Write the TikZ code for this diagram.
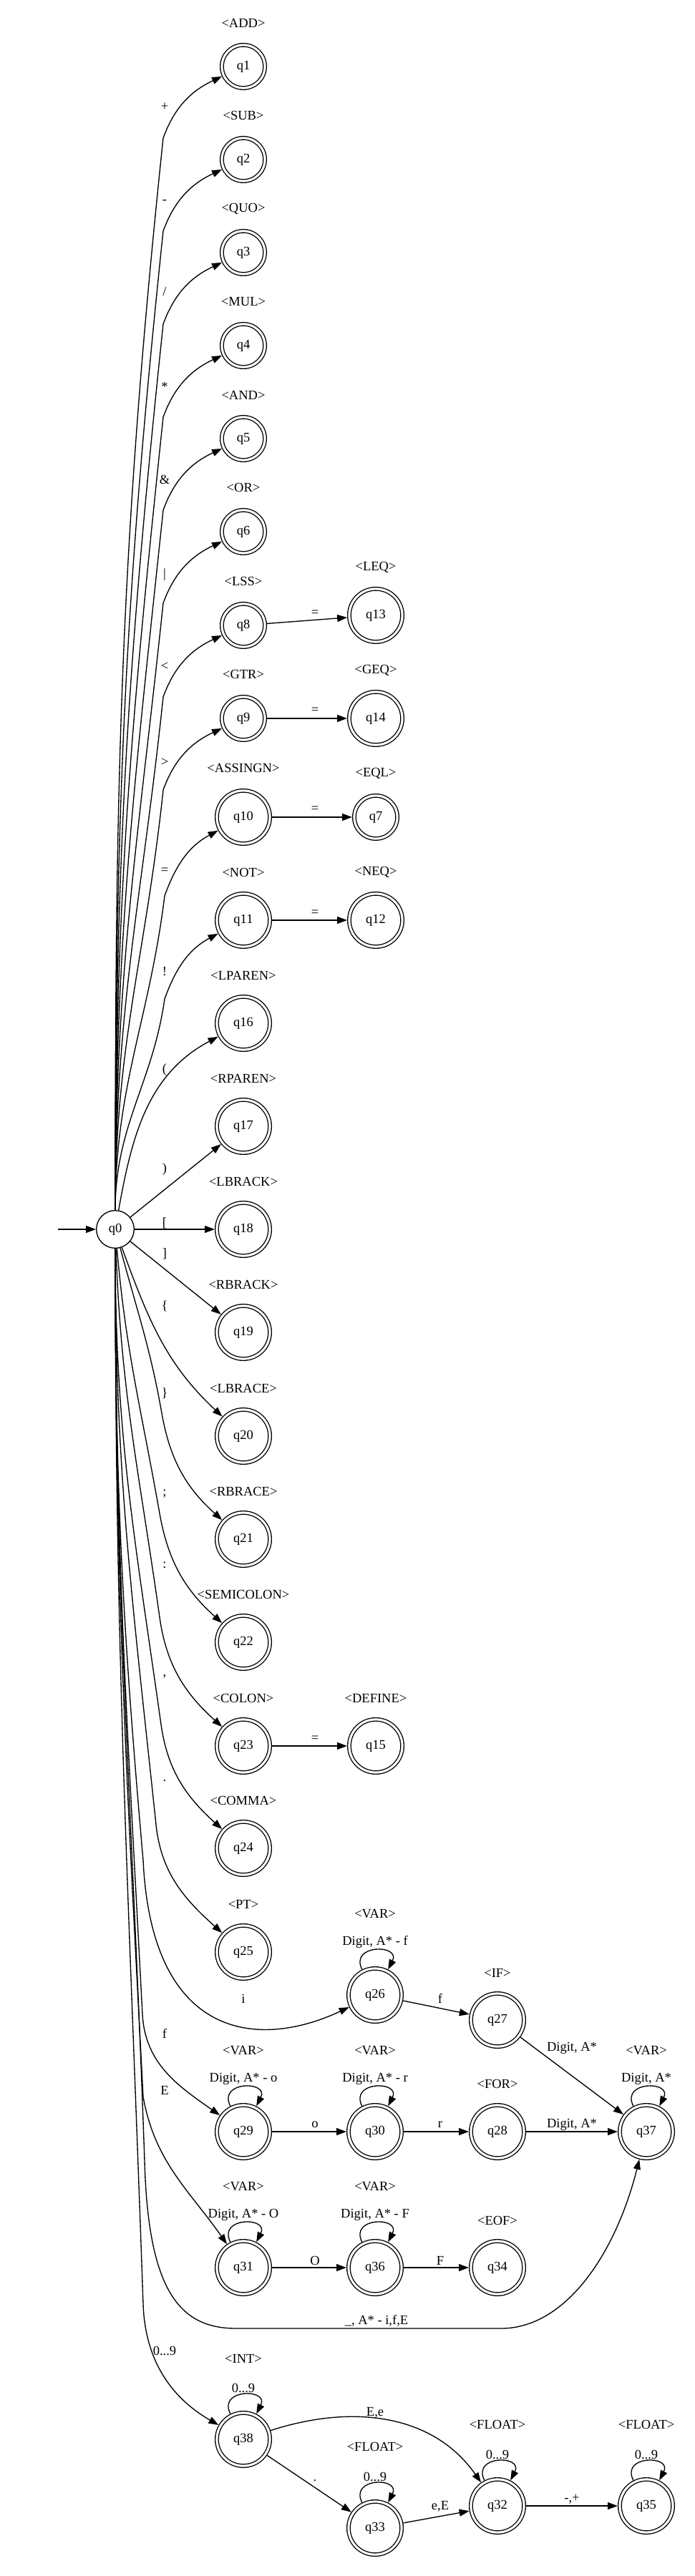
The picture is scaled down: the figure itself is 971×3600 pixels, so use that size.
\documentclass[tikz,border=0pt]{standalone}
\usepackage{fontspec}
\setmainfont{Liberation Serif}
\usetikzlibrary{arrows.meta}
\newlength{\pxu}
\setlength{\pxu}{0.07pt}
\begin{document}
\begin{tikzpicture}[x=0.07pt, y=-0.07pt, line width=1.35\pxu,
  font=\fontsize{1.295pt}{1.54pt}\selectfont,
  >={Triangle[length=0.98pt,width=0.7pt]},
  start/.style={circle, draw, minimum size=52.65\pxu, inner sep=0pt},
  final/.style={circle, draw, double, double distance=3.15\pxu, minimum size=60.15\pxu,
    inner sep=0pt, outer sep=2.925\pxu},
  wide/.style={final, minimum size=74.15\pxu},
  sym/.style={inner sep=0pt},
  loopy/.style={out=117, in=63, distance=40\pxu}]
\useasboundingbox (0,0) rectangle (971,3600);

% states
\node[start] (q0) at (161,1718) {q0};
\node[final] (q1) at (340,93) {q1};
\node[final] (q2) at (340,223) {q2};
\node[final] (q3) at (340,353) {q3};
\node[final] (q4) at (340,483) {q4};
\node[final] (q5) at (340,613) {q5};
\node[final] (q6) at (340,743) {q6};
\node[final] (q8) at (340,874) {q8};
\node[wide] (q13) at (525,860) {q13};
\node[final] (q9) at (340,1004) {q9};
\node[wide] (q14) at (525,1004) {q14};
\node[wide] (q10) at (340,1142) {q10};
\node[final] (q7) at (525,1142) {q7};
\node[wide] (q11) at (340,1286) {q11};
\node[wide] (q12) at (525,1286) {q12};
\node[wide] (q16) at (340,1430) {q16};
\node[wide] (q17) at (340,1574) {q17};
\node[wide] (q18) at (340,1718) {q18};
\node[wide] (q19) at (340,1862) {q19};
\node[wide] (q20) at (340,2007) {q20};
\node[wide] (q21) at (340,2151) {q21};
\node[wide] (q22) at (340,2295) {q22};
\node[wide] (q23) at (340,2440) {q23};
\node[wide] (q15) at (525,2440) {q15};
\node[wide] (q24) at (340,2583) {q24};
\node[wide] (q25) at (340,2728) {q25};
\node[wide] (q26) at (524,2788) {q26};
\node[wide] (q27) at (695,2823) {q27};
\node[wide] (q29) at (340,2979) {q29};
\node[wide] (q30) at (524,2979) {q30};
\node[wide] (q28) at (695,2979) {q28};
\node[wide] (q37) at (903,2979) {q37};
\node[wide] (q31) at (340,3169) {q31};
\node[wide] (q36) at (524,3169) {q36};
\node[wide] (q34) at (695,3169) {q34};
\node[wide] (q38) at (340,3409) {q38};
\node[wide] (q33) at (524,3533) {q33};
\node[wide] (q32) at (695,3502) {q32};
\node[wide] (q35) at (903,3502) {q35};

% token names
\node[sym] (k1) at (340,32) {<ADD>};
\node[sym] (k2) at (340,162) {<SUB>};
\node[sym] (k3) at (340,292) {<QUO>};
\node[sym] (k4) at (340,422) {<MUL>};
\node[sym] (k5) at (340,552) {<AND>};
\node[sym] (k6) at (340,682) {<OR>};
\node[sym] (k8) at (340,813) {<LSS>};
\node[sym] (k13) at (525,793) {<LEQ>};
\node[sym] (k9) at (340,943) {<GTR>};
\node[sym] (k14) at (525,937) {<GEQ>};
\node[sym] (k10) at (340,1074) {<ASSINGN>};
\node[sym] (k7) at (525,1081) {<EQL>};
\node[sym] (k11) at (340,1219) {<NOT>};
\node[sym] (k12) at (525,1219) {<NEQ>};
\node[sym] (k16) at (340,1363) {<LPAREN>};
\node[sym] (k17) at (340,1507) {<RPAREN>};
\node[sym] (k18) at (340,1651) {<LBRACK>};
\node[sym] (k19) at (340,1795) {<RBRACK>};
\node[sym] (k20) at (340,1940) {<LBRACE>};
\node[sym] (k21) at (340,2084) {<RBRACE>};
\node[sym] (k22) at (340,2228) {<SEMICOLON>};
\node[sym] (k23) at (340,2373) {<COLON>};
\node[sym] (k15) at (525,2373) {<DEFINE>};
\node[sym] (k24) at (340,2516) {<COMMA>};
\node[sym] (k25) at (340,2661) {<PT>};
\node[sym] (k26) at (524,2675) {<VAR>};
\node[sym] (k27) at (695,2757) {<IF>};
\node[sym] (k29) at (340,2866) {<VAR>};
\node[sym] (k30) at (524,2866) {<VAR>};
\node[sym] (k28) at (695,2912) {<FOR>};
\node[sym] (k37) at (903,2866) {<VAR>};
\node[sym] (k31) at (340,3056) {<VAR>};
\node[sym] (k36) at (524,3056) {<VAR>};
\node[sym] (k34) at (695,3103) {<EOF>};
\node[sym] (k38) at (340,3296) {<INT>};
\node[sym] (k33) at (524,3419) {<FLOAT>};
\node[sym] (k32) at (695,3388) {<FLOAT>};
\node[sym] (k35) at (903,3388) {<FLOAT>};

% start arrow
\coordinate (s) at (81,1718);
\draw[->] (s) -- (q0);

% edges going up from q0
\draw[->] (q0) to[out=90,in=-96] (228,193) to[out=70,in=205] (q1);
\draw[->] (q0) to[out=90,in=-96] (228,323) to[out=70,in=205] (q2);
\draw[->] (q0) to[out=90,in=-96] (228,453) to[out=70,in=205] (q3);
\draw[->] (q0) to[out=90,in=-96] (228,583) to[out=70,in=205] (q4);
\draw[->] (q0) to[out=90,in=-96] (228,713) to[out=70,in=205] (q5);
\draw[->] (q0) to[out=90,in=-96] (228,843) to[out=70,in=205] (q6);
\draw[->] (q0) to[out=90,in=-96] (228,974) to[out=70,in=205] (q8);
\draw[->] (q0) to[out=90,in=-96] (228,1104) to[out=70,in=205] (q9);
\draw[->] (q0) to[out=90,in=-97] (230,1252) to[out=70,in=208] (q10);
\draw[->] (q0) to[out=90,in=-98] (230,1396) to[out=70,in=208] (q11);
\draw[->] (q0) to[out=80,in=208] (q16);
\draw[->] (q0) -- (q17);
\draw[->] (q0) -- (q18);
\draw[->] (q0) -- (q19);

% edges going down from q0
\draw[->] (q0) to[out=-70,in=137] (q20);
\draw[->] (q0) to[out=-75,in=100] (226,1975) to[out=-80,in=138] (q21);
\draw[->] (q0) to[out=-85,in=100] (223,2115) to[out=-80,in=138] (q22);
\draw[->] (q0) to[out=-88,in=98] (223,2260) to[out=-82,in=138] (q23);
\draw[->] (q0) to[out=-90,in=98] (225,2410) to[out=-82,in=138] (q24);
\draw[->] (q0) to[out=-90,in=96] (218,2550) to[out=-84,in=138] (q25);
\draw[->] (q0) to[out=-90,in=95] (200,2600) .. controls (212,2850) and (360,2865) .. (q26);
\draw[->] (q0) to[out=-90,in=93] (199,2815) to[out=-87,in=145] (q29);
\draw[->] (q0) to[out=-90,in=93] (200,2930) to[out=-80,in=125] (q31);
\draw[->] (q0) to[out=-90,in=92] (202,3020) .. controls (207,3200) and (250,3254) .. (330,3254)
  -- (700,3254) .. controls (790,3254) and (860,3150) .. (q37);
\draw[->] (q0) to[out=-90,in=92] (200,3220) to[out=-88,in=150] (q38);

% second symbols
\draw[->] (q8) -- (q13);
\draw[->] (q9) -- (q14);
\draw[->] (q10) -- (q7);
\draw[->] (q11) -- (q12);
\draw[->] (q23) -- (q15);

% keywords and numbers
\draw[->] (q26) -- (q27);
\draw[->] (q27) -- (q37);
\draw[->] (q29) -- (q30);
\draw[->] (q30) -- (q28);
\draw[->] (q28) -- (q37);
\draw[->] (q31) -- (q36);
\draw[->] (q36) -- (q34);
\draw[->] (q38) to[out=18,in=125] (q32);
\draw[->] (q38) -- (q33);
\draw[->] (q33) -- (q32);
\draw[->] (q32) -- (q35);

% self loops
\draw[->] (q26) to[loopy] node[above, inner sep=2\pxu] (v26) {Digit, A* - f} (q26);
\draw[->] (q29) to[loopy] node[above, inner sep=2\pxu] (v29) {Digit, A* - o} (q29);
\draw[->] (q30) to[loopy] node[above, inner sep=2\pxu] (v30) {Digit, A* - r} (q30);
\draw[->] (q37) to[loopy] node[above, inner sep=2\pxu] (v37) {Digit, A*} (q37);
\draw[->] (q31) to[loopy] node[above, inner sep=2\pxu] (v31) {Digit, A* - O} (q31);
\draw[->] (q36) to[loopy] node[above, inner sep=2\pxu] (v36) {Digit, A* - F} (q36);
\draw[->] (q38) to[loopy] node[above, inner sep=2\pxu] (v38) {0...9} (q38);
\draw[->] (q33) to[loopy] node[above, inner sep=2\pxu] (v33) {0...9} (q33);
\draw[->] (q32) to[loopy] node[above, inner sep=2\pxu] (v32) {0...9} (q32);
\draw[->] (q35) to[loopy] node[above, inner sep=2\pxu] (v35) {0...9} (q35);

% edge labels
\node[sym] (t1) at (230,149) {+};
\node[sym] (t2) at (230,282) {-};
\node[sym] (t3) at (230,408) {/};
\node[sym] (t4) at (230,540) {*};
\node[sym] (t5) at (230,670) {\&};
\node[sym] (t6) at (230,803) {|};
\node[sym] (t7) at (230,931) {<};
\node[sym] (t8) at (230,1065) {>};
\node[sym] (t9) at (230,1217) {=};
\node[sym] (t10) at (230,1358) {!};
\node[sym] (t11) at (230,1495) {(};
\node[sym] (t12) at (230,1634) {)};
\node[sym] (t13) at (230,1709) {[};
\node[sym] (t14) at (230,1752) {]};
\node[sym] (t15) at (230,1825) {\{};
\node[sym] (t16) at (230,1947) {\}};
\node[sym] (t17) at (230,2088) {;};
\node[sym] (t18) at (230,2187) {:};
\node[sym] (t19) at (230,2343) {,};
\node[sym] (t20) at (230,2489) {.};
\node[sym] (t21) at (340,2793) {i};
\node[sym] (t22) at (230,2842) {f};
\node[sym] (t23) at (230,2921) {E};
\node[sym] (t24) at (526,3243) {\_, A* - i,f,E};
\node[sym] (t25) at (230,3285) {0...9};
\node[sym] (t26) at (440,857) {=};
\node[sym] (t27) at (440,993) {=};
\node[sym] (t28) at (440,1131) {=};
\node[sym] (t29) at (440,1276) {=};
\node[sym] (t30) at (440,2430) {=};
\node[sym] (t31) at (615,2793) {f};
\node[sym] (t32) at (799,2862) {Digit, A*};
\node[sym] (t33) at (440,2969) {o};
\node[sym] (t34) at (615,2969) {r};
\node[sym] (t35) at (799,2969) {Digit, A*};
\node[sym] (t36) at (440,3159) {O};
\node[sym] (t37) at (615,3159) {F};
\node[sym] (t38) at (524,3372) {E,e};
\node[sym] (t39) at (440,3467) {.};
\node[sym] (t40) at (615,3503) {e,E};
\node[sym] (t41) at (799,3493) {-,+};
\end{tikzpicture}
\end{document}
